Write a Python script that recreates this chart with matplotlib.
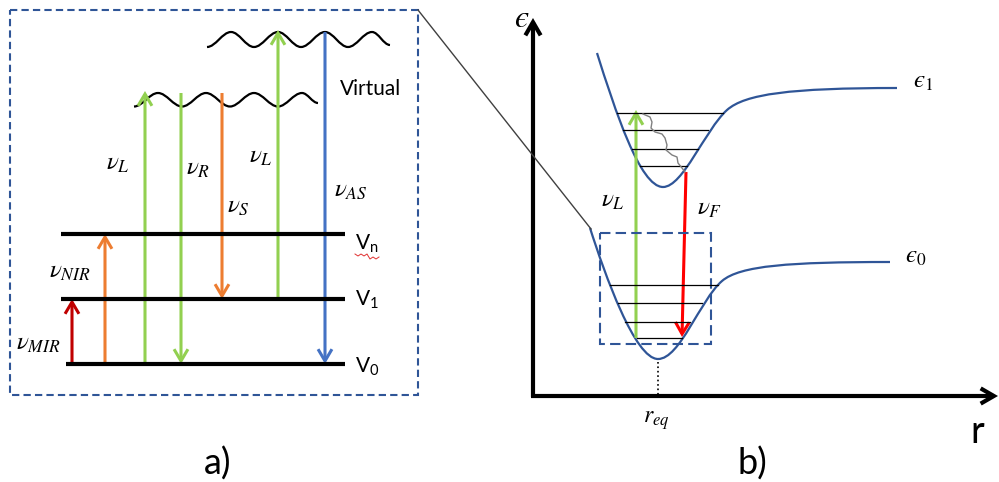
import matplotlib.pyplot as plt
import numpy as np
from matplotlib.path import Path
from matplotlib.patches import PathPatch, FancyArrowPatch, Rectangle

plt.rcParams['font.family'] = ['Lato', 'DejaVu Sans']
plt.rcParams['mathtext.fontset'] = 'stix'
plt.rcParams['mathtext.rm'] = 'Lato'
plt.rcParams['mathtext.it'] = 'Lato:italic'

# everything is in pixel coordinates of the 999x482 picture (y going down)
GREEN = '#92D050'
ORANGE = '#ED7D31'
DARKRED = '#C00000'
BLUE = '#4472C4'
NAVY = '#2F5597'

# ---- panel a : vibrational levels ----
level_y = [364, 299, 234]
level_x0 = [66, 61, 61]
level_x1 = [345, 345, 345]
level_labels = [r'V$_0$', r'V$_1$', r'V$_\mathrm{n}$']
level_label_y = [373, 306, 250]

# virtual states (wave extrema)
wave_low = [(134, 106.5), (158, 93), (182, 106.5), (206, 93), (230, 106.5),
            (254, 93), (278, 106.5), (302, 93), (318, 103)]
wave_high = [(207, 47), (231, 32), (254, 47), (278, 32), (301, 47),
             (325, 32), (348, 47), (372, 32), (390, 45)]

# transitions : x, start y, end y, colour
trans_x = [72, 105, 145, 181, 222, 278, 325]
trans_y0 = [362, 362, 364, 93, 93, 299, 32]
trans_y1 = [299, 234, 91, 364, 299, 30, 364]
trans_col = [DARKRED, ORANGE, GREEN, GREEN, ORANGE, GREEN, BLUE]
trans_lab = [r'$\nu_{MIR}$', r'$\nu_{NIR}$', r'$\nu_L$', r'$\nu_R$',
             r'$\nu_S$', r'$\nu_L$', r'$\nu_{AS}$']
trans_lab_x = [16, 49, 106, 186, 227, 249, 334]
trans_lab_y = [350, 278, 170, 175, 213, 163, 197]

# ---- panel b : potential curves (bezier nodes) ----
eps1_nodes = [(597, 53), (615, 110), (640, 187), (663, 187), (683, 187),
              (705, 130), (727, 110), (745, 94), (790, 88), (897, 88)]
eps0_nodes = [(590, 228), (605, 275), (635, 359), (658, 359), (680, 359),
              (700, 300), (722, 281), (740, 265.5), (790, 262), (890, 262)]
vib1_y = [113, 130, 149, 166]
vib1_x0 = [617, 623, 632, 640]
vib1_x1 = [723, 708, 698, 687]
vib0_y = [285, 303, 322, 338]
vib0_x0 = [610, 618, 625, 637]
vib0_x1 = [718, 702, 690, 682]
relax_pts = [(643, 114), (650, 117), (652, 122), (651, 128), (655, 132),
             (662, 134), (665, 138), (667, 145), (666, 150), (672, 155),
             (677, 157), (678, 163), (682, 168), (685, 172)]


def wave_path(pts):
    verts = [pts[0]]
    codes = [Path.MOVETO]
    for (x0, y0), (x1, y1) in zip(pts[:-1], pts[1:]):
        dx = x1 - x0
        verts += [(x0 + 0.36 * dx, y0), (x1 - 0.36 * dx, y1), (x1, y1)]
        codes += [Path.CURVE4] * 3
    return Path(verts, codes)


def bez_path(nodes):
    return Path(nodes, [Path.MOVETO] + [Path.CURVE4] * (len(nodes) - 1))


def arrow(ax, p0, p1, col, lw=2.2, hl=8.5, hw=5):
    ax.add_patch(FancyArrowPatch(p0, p1, arrowstyle='->,head_length=%g,head_width=%g' % (hl, hw),
                                 color=col, lw=lw, shrinkA=0, shrinkB=0,
                                 mutation_scale=1, joinstyle='miter', capstyle='butt'))


fig = plt.figure(figsize=(9.99, 4.82), dpi=100)
ax = fig.add_axes([0, 0, 1, 1])
ax.set_xlim(0, 999)
ax.set_ylim(482, 0)
ax.axis('off')

# panel a
ax.add_patch(Rectangle((10, 10), 408, 385, fill=False, ec=NAVY, lw=1.5, ls=(0, (3.5, 2))))
for y, x0, x1, lab, ly in zip(level_y, level_x0, level_x1, level_labels, level_label_y):
    ax.plot([x0, x1], [y, y], color='black', lw=3, solid_capstyle='butt')
    ax.text(355, ly, lab, fontsize=15, va='baseline', math_fontfamily='custom')
# spell check squiggle under "n"
squig_x = [355, 358, 361, 364, 367, 370, 373, 376, 379]
squig_y = [254, 256, 254, 256, 254, 259, 257, 259, 257]
ax.plot(squig_x, squig_y, color='#E03030', lw=0.7)

for w in (wave_low, wave_high):
    ax.add_patch(PathPatch(wave_path(w), fill=False, ec='black', lw=1.6))
ax.text(340, 95, 'Virtual', fontsize=15, va='baseline')

for x, y0, y1, c in zip(trans_x, trans_y0, trans_y1, trans_col):
    arrow(ax, (x, y0), (x, y1), c)
for lab, lx, ly in zip(trans_lab, trans_lab_x, trans_lab_y):
    ax.text(lx, ly, lab, fontsize=18, va='baseline')

# link between panels
ax.plot([418, 591], [10, 229], color='#404040', lw=1)

# panel b
arrow(ax, (533, 397), (533, 18), 'black', lw=3, hl=9.5, hw=5.5)
arrow(ax, (531, 396), (998, 396), 'black', lw=3, hl=9.5, hw=5.5)
ax.text(514, 27, '$\u03f5$', fontsize=23, va='baseline')
ax.text(970, 443, 'r', fontsize=27, va='baseline')

ax.add_patch(PathPatch(bez_path(eps1_nodes), fill=False, ec=NAVY, lw=1.6))
ax.add_patch(PathPatch(bez_path(eps0_nodes), fill=False, ec=NAVY, lw=1.6))
for y, x0, x1 in zip(vib1_y + vib0_y, vib1_x0 + vib0_x0, vib1_x1 + vib0_x1):
    ax.plot([x0, x1], [y, y], color='black', lw=0.9)
rx, ry = zip(*relax_pts)
ax.plot(rx, ry, color='#808080', lw=1)

arrow(ax, (636, 338), (636, 110), GREEN)
arrow(ax, (686, 172), (682, 337), '#FF0000')
ax.add_patch(Rectangle((600, 233), 111, 111, fill=False, ec=NAVY, lw=1.5, ls=(0, (5, 2.5))))
ax.plot([658, 658], [362, 396], color='black', lw=1.2, ls=':')

ax.text(601, 207, r'$\nu_L$', fontsize=18, va='baseline')
ax.text(697, 215, r'$\nu_F$', fontsize=18, va='baseline')
ax.text(913, 88, '$\u03f5_1$', fontsize=18, va='baseline')
ax.text(905, 263, '$\u03f5_0$', fontsize=18, va='baseline')
ax.text(643, 423, r'$r_{eq}$', fontsize=17, va='baseline')

ax.text(218, 475, 'a)', fontsize=26, va='baseline', ha='center')
ax.text(752, 475, 'b)', fontsize=26, va='baseline', ha='center')

fig.savefig('out.png', dpi=100)
